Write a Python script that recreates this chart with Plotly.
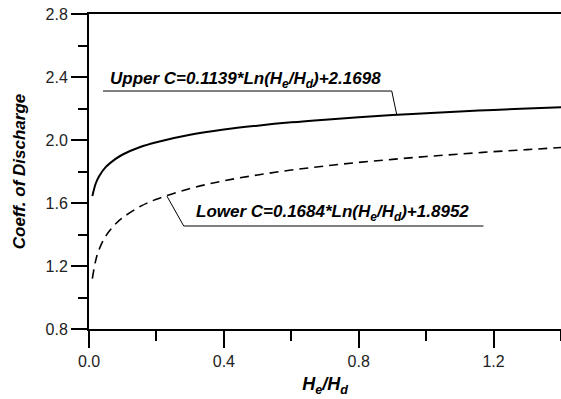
import plotly.graph_objects as go

# Data
he_hd = [0.01, 0.02, 0.03, 0.05, 0.08, 0.10, 0.15, 0.20, 0.30, 0.40, 0.50,
         0.60, 0.70, 0.80, 0.90, 1.00, 1.10, 1.20, 1.30, 1.40]
upper_c = [1.645, 1.724, 1.770, 1.829, 1.882, 1.908, 1.954, 1.986, 2.033, 2.066, 2.091,
           2.112, 2.129, 2.144, 2.158, 2.170, 2.181, 2.191, 2.200, 2.208]
lower_c = [1.120, 1.236, 1.305, 1.391, 1.470, 1.507, 1.576, 1.624, 1.692, 1.741, 1.778,
           1.809, 1.835, 1.858, 1.877, 1.895, 1.911, 1.926, 1.939, 1.952]
x_ticks = [0.0, 0.4, 0.8, 1.2]
y_ticks = [0.8, 1.2, 1.6, 2.0, 2.4, 2.8]
upper_label = "Upper C=0.1139*Ln(H<sub>e</sub>/H<sub>d</sub>)+2.1698"
lower_label = "Lower C=0.1684*Ln(H<sub>e</sub>/H<sub>d</sub>)+1.8952"

FONT = "Arial, Liberation Sans, sans-serif"

fig = go.Figure()
fig.add_trace(go.Scatter(x=he_hd, y=upper_c, mode="lines", line_shape="spline",
                         line=dict(color="black", width=2), showlegend=False))
fig.add_trace(go.Scatter(x=he_hd, y=lower_c, mode="lines", line_shape="spline",
                         line=dict(color="black", width=1.6, dash="9px,6px"),
                         showlegend=False))

# Labels with underline + leader line
fig.add_annotation(x=0.056, y=2.381, xref="x", yref="y", text="<b><i>" + upper_label + "</i></b>",
                   showarrow=False, xanchor="left", yanchor="middle",
                   font=dict(family=FONT, size=17, color="black"))
fig.add_shape(type="path", xref="x", yref="y",
              path="M 0.0415,2.311 L 0.898,2.311 L 0.913,2.159",
              line=dict(color="black", width=1))
fig.add_annotation(x=0.311, y=1.537, xref="x", yref="y", text="<b><i>" + lower_label + "</i></b>",
                   showarrow=False, xanchor="left", yanchor="middle",
                   font=dict(family=FONT, size=17, color="black"))
fig.add_shape(type="path", xref="x", yref="y",
              path="M 1.170,1.454 L 0.281,1.454 L 0.231,1.644",
              line=dict(color="black", width=1))

fig.update_xaxes(range=[0, 1.4], tickvals=x_ticks, ticktext=[f"{v:.1f}" for v in x_ticks],
                 ticks="outside", ticklen=17, tickwidth=2, tickcolor="black",
                 minor=dict(dtick=0.2, tick0=0, ticks="outside", ticklen=10, tickwidth=2, tickcolor="black"),
                 showline=True, linewidth=2, linecolor="black", mirror=True,
                 showgrid=False, zeroline=False, automargin=False,
                 tickfont=dict(family=FONT, size=16, color="#222"),
                 title=dict(text="<b><i>H<sub>e</sub>/H<sub>d</sub></i></b>",
                            font=dict(family=FONT, size=18, color="black"), standoff=8))
fig.update_yaxes(range=[0.8, 2.8], tickvals=y_ticks, ticktext=[f"{v:.1f}" for v in y_ticks],
                 ticks="outside", ticklen=16, tickwidth=2, tickcolor="black",
                 minor=dict(dtick=0.2, tick0=0.8, ticks="outside", ticklen=9, tickwidth=2, tickcolor="black"),
                 showline=True, linewidth=2, linecolor="black", mirror=False,
                 showgrid=False, zeroline=False, automargin=False,
                 tickfont=dict(family=FONT, size=16, color="#222"),
                 title=dict(text="<b><i>Coeff. of Discharge</i></b>",
                            font=dict(family=FONT, size=17, color="black"), standoff=16))

fig.update_layout(width=561, height=399, margin=dict(l=89, r=0, t=14, b=70),
                  plot_bgcolor="white", paper_bgcolor="white")

fig.write_html("out.html", config={"responsive": False, "displayModeBar": False},
               post_script="document.body.style.margin='0px';document.body.style.overflow='hidden';")
